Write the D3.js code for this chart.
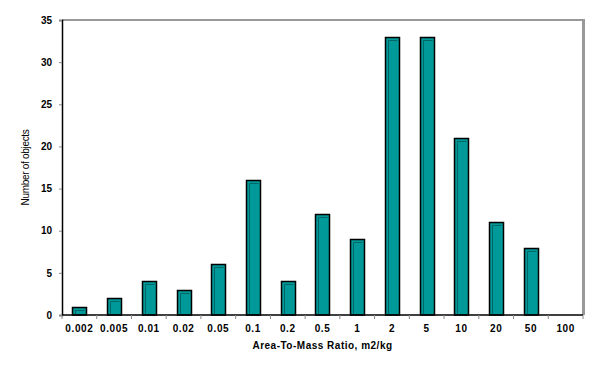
<!DOCTYPE html>
<html>
<head>
<meta charset="utf-8">
<script src="https://cdn.jsdelivr.net/npm/d3@7"></script>
<style>
  body { margin: 0; background: #fff; }
  text { font-family: Arial, "Liberation Sans", sans-serif; }
</style>
</head>
<body>
<div id="chart"></div>
<script>
var categories = ['0.002', '0.005', '0.01', '0.02', '0.05', '0.1', '0.2', '0.5', '1', '2', '5', '10', '20', '50', '100'];
var counts = [1, 2, 4, 3, 6, 16, 4, 12, 9, 33, 33, 21, 11, 8, 0];
var yTicks = [0, 5, 10, 15, 20, 25, 30, 35];

var w = 600, h = 366;
var margin = { top: 20, right: 17, bottom: 51, left: 62 };

var svg = d3.select('#chart').append('svg')
  .attr('width', w)
  .attr('height', h);

var x = d3.scaleBand()
  .domain(categories)
  .range([margin.left, w - margin.right])
  .paddingInner(0.6)
  .paddingOuter(0.3);

var y = d3.scaleLinear()
  .domain([0, 35])
  .range([h - margin.bottom, margin.top]);

var step = x.step();

// frame, top and right in grey
svg.append('line')
  .attr('x1', margin.left).attr('x2', w - margin.right)
  .attr('y1', margin.top).attr('y2', margin.top)
  .attr('stroke', '#999').attr('stroke-width', 2);
svg.append('line')
  .attr('x1', w - margin.right + 0.5).attr('x2', w - margin.right + 0.5)
  .attr('y1', margin.top - 1).attr('y2', h - margin.bottom)
  .attr('stroke', '#999').attr('stroke-width', 3);

// bars
var bw = 14;
var bars = svg.append('g').selectAll('g')
  .data(categories.map(function(c, i) { return { cat: c, val: counts[i] }; }))
  .enter().append('g')
  .filter(function(d) { return d.val > 0; });

bars.each(function(d) {
  var g = d3.select(this);
  var cx = x(d.cat) + x.bandwidth() / 2;
  var x0 = Math.round(cx - bw / 2) + 0.5;
  var top = Math.round(y(d.val)) + 0.5;
  var bot = y(0);
  g.append('rect')
    .attr('x', x0)
    .attr('y', top)
    .attr('width', bw)
    .attr('height', bot - top)
    .attr('fill', '#009999')
    .attr('stroke', '#000')
    .attr('stroke-width', 1.5);
  // inner bevel line
  if (bot - top > 6) {
    g.append('path')
      .attr('d', 'M' + (x0 + 3) + ',' + bot + 'V' + (top + 3) + 'H' + (x0 + bw - 2))
      .attr('fill', 'none')
      .attr('stroke', '#006666')
      .attr('stroke-width', 1);
  }
});

// y axis
var yAxis = d3.axisLeft(y)
  .tickValues(yTicks)
  .tickSize(3)
  .tickPadding(7);
var gy = svg.append('g')
  .attr('transform', 'translate(' + margin.left + ',0)')
  .call(yAxis);
gy.select('.domain').attr('stroke', '#000').attr('stroke-width', 1.5);
gy.selectAll('.tick line').attr('stroke', '#888');
gy.selectAll('text')
  .attr('font-size', 10)
  .attr('font-weight', 'bold')
  .attr('fill', '#000');

// x axis, ticks on category boundaries
var gx = svg.append('g')
  .attr('transform', 'translate(0,' + y(0) + ')');
gx.append('line')
  .attr('x1', margin.left).attr('x2', w - margin.right)
  .attr('stroke', '#000').attr('stroke-width', 1.5);
gx.selectAll('.bnd')
  .data(d3.range(categories.length + 1))
  .enter().append('line')
  .attr('x1', function(i) { return margin.left + step * i; })
  .attr('x2', function(i) { return margin.left + step * i; })
  .attr('y1', 0).attr('y2', 4)
  .attr('stroke', '#888');
gx.selectAll('.lbl')
  .data(categories)
  .enter().append('text')
  .attr('x', function(d) { return x(d) + x.bandwidth() / 2; })
  .attr('y', 17)
  .attr('text-anchor', 'middle')
  .attr('font-size', 10)
  .attr('font-weight', 'bold')
  .attr('letter-spacing', 0.6)
  .text(function(d) { return d; });

// axis titles
svg.append('text')
  .attr('x', (margin.left + w - margin.right) / 2)
  .attr('y', 349)
  .attr('text-anchor', 'middle')
  .attr('font-size', 10)
  .attr('font-weight', 'bold')
  .attr('letter-spacing', 0.5)
  .text('Area-To-Mass Ratio, m2/kg');

svg.append('text')
  .attr('transform', 'translate(29,' + ((margin.top + h - margin.bottom) / 2) + ') rotate(-90)')
  .attr('text-anchor', 'middle')
  .attr('font-size', 10)
  .attr('letter-spacing', -0.3)
  .text('Number of objects');
</script>
</body>
</html>
